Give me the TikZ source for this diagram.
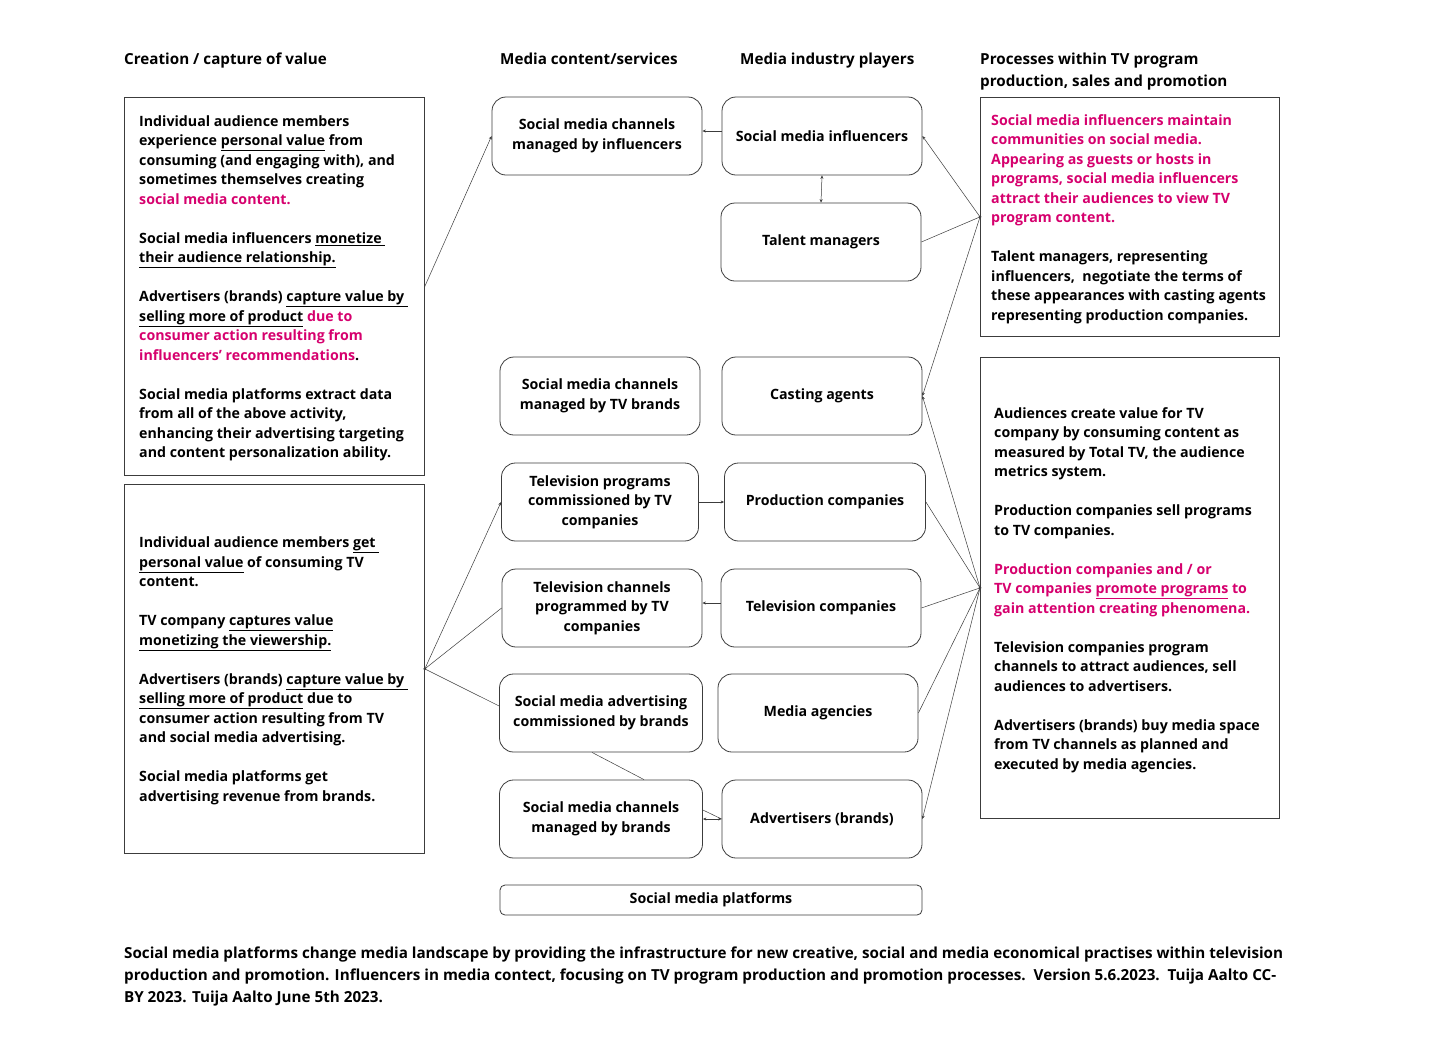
\documentclass[tikz,border=0pt]{standalone}
\usepackage{fontspec}
\setmainfont{Open Sans}
\usetikzlibrary{arrows.meta}
\definecolor{mag}{RGB}{214,0,110}
\definecolor{edge}{RGB}{60,60,60}
\newcommand{\myul}[1]{\underline{#1}}
\begin{document}
\begin{tikzpicture}[x=1pt,y=-1pt,
  every node/.style={font=\bfseries\fontsize{14.2}{19.5}\selectfont, text=black},
  rbox/.style={draw=edge, rounded corners=14pt, line width=0.8pt, minimum width=200pt, minimum height=78pt, align=center, inner sep=2pt, font=\bfseries\fontsize{14.2}{19.5}\selectfont},
  tbox/.style={draw=edge, line width=0.8pt, anchor=north west, inner sep=0pt},
  btext/.style={anchor=west, align=left, inner sep=0pt},
  head/.style={anchor=north west, align=left, inner sep=0pt, font=\bfseries\fontsize{15.2}{22}\selectfont},
  conn/.style={draw=edge, line width=0.5pt},
  arr/.style={conn, -{Stealth[length=3.5pt,width=3pt]}},
  darr/.style={conn, {Stealth[length=3.5pt,width=3pt]}-{Stealth[length=3.5pt,width=3pt]}}
]
\useasboundingbox (0,0) rectangle (1456,1047);
\fill[white] (0,0) rectangle (1456,1047);

% headings
\node[head] (h1) at (124,53) {Creation / capture of value};
\node[head] (h2) at (500,53) {Media content/services};
\node[head] (h3) at (740,53) {Media industry players};
\node[head] (h4) at (980,53) {Processes within TV program\\production, sales and promotion};

% left boxes
\node[tbox, minimum width=300pt, minimum height=378pt] (L1) at (124,97) {};
\node[btext] (L1t) at ([xshift=15pt,yshift=-2pt]L1.west) {Individual audience members\\
experience \myul{personal value} from\\
consuming (and engaging with), and\\
sometimes themselves creating\\
\textcolor{mag}{social media content.}\\[19.5pt]
Social media influencers \myul{monetize }\\
\myul{their audience relationship.}\\[19.5pt]
Advertisers (brands) \myul{capture value by }\\
\myul{selling more of product} \textcolor{mag}{due to}\\
\textcolor{mag}{consumer action resulting from}\\
\textcolor{mag}{influencers' recommendations}.\\[19.5pt]
Social media platforms extract data\\
from all of the above activity,\\
enhancing their advertising targeting\\
and content personalization ability.};

\node[tbox, minimum width=300pt, minimum height=369pt] (L2) at (124,484) {};
\node[btext] (L2t) at ([xshift=15pt,yshift=-2pt]L2.west) {Individual audience members \myul{get }\\
\myul{personal value} of consuming TV\\
content.\\[19.5pt]
TV company \myul{captures value}\\
\myul{monetizing the viewership.}\\[19.5pt]
Advertisers (brands) \myul{capture value by }\\
\myul{selling more of product} due to\\
consumer action resulting from TV\\
and social media advertising.\\[19.5pt]
Social media platforms get\\
advertising revenue from brands.};

% right boxes
\node[tbox, minimum width=299pt, minimum height=239pt] (R1) at (980,97) {};
\node[btext] (R1t) at ([xshift=11pt,yshift=-2pt]R1.west) {\textcolor{mag}{Social media influencers maintain}\\
\textcolor{mag}{communities on social media.}\\
\textcolor{mag}{Appearing as guests or hosts in}\\
\textcolor{mag}{programs, social media influencers}\\
\textcolor{mag}{attract their audiences to view TV}\\
\textcolor{mag}{program content.}\\[19.5pt]
Talent managers, representing\\
influencers,\ \ negotiate the terms of\\
these appearances with casting agents\\
representing production companies.};

\node[tbox, minimum width=299pt, minimum height=461pt] (R2) at (980,357) {};
\node[btext] (R2t) at ([xshift=14pt,yshift=-2pt]R2.west) {Audiences create value for TV\\
company by consuming content as\\
measured by Total TV, the audience\\
metrics system.\\[19.5pt]
Production companies sell programs\\
to TV companies.\\[19.5pt]
\textcolor{mag}{Production companies and / or}\\
\textcolor{mag}{TV companies \myul{promote programs} to}\\
\textcolor{mag}{gain attention creating phenomena.}\\[19.5pt]
Television companies program\\
channels to attract audiences, sell\\
audiences to advertisers.\\[19.5pt]
Advertisers (brands) buy media space\\
from TV channels as planned and\\
executed by media agencies.};

% media content column
\node[rbox, minimum width=210pt] (m1) at (597,136) {Social media channels\\managed by influencers};
\node[rbox] (m2) at (600,396) {Social media channels\\managed by TV brands};
\node[rbox, minimum width=197pt] (m3) at (600,502) {Television programs\\commissioned by TV\\companies};
\node[rbox] (m4) at (602,608) {Television channels\\programmed by TV\\companies};
\node[rbox, minimum width=203pt] (m5) at (601,713) {Social media advertising\\commissioned by brands};
\node[rbox, minimum width=203pt] (m6) at (601,819) {Social media channels\\managed by brands};

% players column
\node[rbox] (p1) at (822,136) {Social media influencers};
\node[rbox] (p2) at (821,242) {Talent managers};
\node[rbox] (p3) at (822,396) {Casting agents};
\node[rbox, minimum width=201pt] (p4) at (825,502) {Production companies};
\node[rbox] (p5) at (821,608) {Television companies};
\node[rbox] (p6) at (818,713) {Media agencies};
\node[rbox] (p7) at (822,819) {Advertisers (brands)};

\node[draw=edge, line width=0.8pt, rounded corners=5pt, minimum width=422pt, minimum height=30pt, inner sep=0pt] (plat) at (711,900) {Social media platforms};

% caption
\node[head] (cap) at (124,947) {Social media platforms change media landscape by providing the infrastructure for new creative, social and media economical practises within television\\
production and promotion. Influencers in media contect, focusing on TV program production and promotion processes.\ \ Version 5.6.2023.\ \ Tuija Aalto CC-\\
BY 2023. Tuija Aalto June 5th 2023.};

% connectors
\draw[arr] (L1.east) -- (m1.west);
\draw[arr] ([yshift=5pt]p1.west) -- ([yshift=5pt]m1.east);
\draw[darr] (p1.south) -- (p2.north);
\draw[arr] (R1.west) -- (p1.east);
\draw[conn] (R1.west) -- (p2.east);
\draw[arr] (R1.west) -- (p3.east);
\draw[arr] (R2.west) -- (p3.east);
\draw[conn] (R2.west) -- (p4.east);
\draw[conn] (R2.west) -- (p5.east);
\draw[conn] (R2.west) -- (p6.east);
\draw[arr] (R2.west) -- (p7.east);
\fill[edge] (R1.west) circle (1.5pt);
\fill[edge] (R2.west) circle (1.5pt);

\draw[arr] (L2.east) -- (m3.west);
\draw[conn] (L2.east) -- (m4.west);
\draw[conn] (L2.east) -- ([yshift=7pt]m5.west);
\fill[edge] (L2.east) circle (1.5pt);
\draw[arr] (m3.east) -- (p4.west);
\draw[arr] ([yshift=5pt]p5.west) -- ([yshift=5pt]m4.east);
\draw[conn] ([xshift=-9pt]m5.south) -- ([xshift=43pt]m6.north);
\draw[darr] (m6.east) -- (p7.west);
\draw[conn] ([yshift=9pt]m6.east) -- (p7.west);
\end{tikzpicture}
\end{document}
